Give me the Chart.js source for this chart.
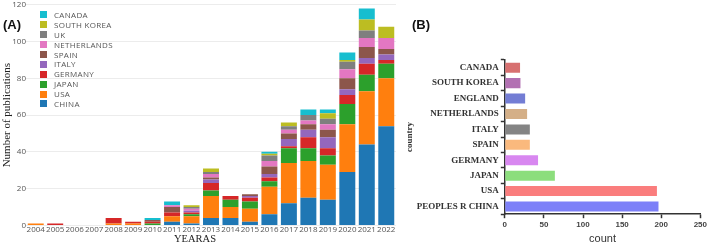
<!DOCTYPE html>
<html>
<head>
<meta charset="utf-8">
<script src="https://cdn.jsdelivr.net/npm/chart.js@4.4.1/dist/chart.umd.min.js"></script>
<style>
  html, body { margin: 0; padding: 0; background: #fff; }
  body { width: 709px; height: 248px; position: relative; overflow: hidden; }
  #cA { position: absolute; left: 0; top: 0; }
  #cB { position: absolute; left: 400px; top: 0; }
  .panel { position: absolute; font: bold 13px "Liberation Sans", Arial, sans-serif; color: #111; }
  #legA { position: absolute; left: 40px; top: 10px; font: 8px "Open Sans", "DejaVu Sans", sans-serif; color: #555; letter-spacing: 0.3px; }
  #legA .row { height: 9.9px; line-height: 9.9px; display: flex; align-items: center; white-space: nowrap; }
  #legA .sw { width: 7px; height: 7px; margin-right: 7px; display: inline-block; }
</style>
</head>
<body>
<canvas id="cA" width="400" height="248"></canvas>
<canvas id="cB" width="309" height="248"></canvas>
<div class="panel" style="left:3px; top:17px;">(A)</div>
<div class="panel" style="left:412px; top:17px;">(B)</div>
<div id="legA"></div>
<script>
// ---------- Panel A data ----------
const years = ["2004","2005","2006","2007","2008","2009","2010","2011","2012","2013","2014","2015","2016","2017","2018","2019","2020","2021","2022"];
const china       = [0,0,0,0,0,0,0,2,1,4,4,2,6,12,15,14,29,44,54];
const usa         = [1,0,0,0,1,1,0,3,4,12,6,7,15,22,20,19,26,29,26];
const japan       = [0,0,0,0,0,0,1,0,1,3,4,4,3,8,7,5,11,9,8];
const germany     = [0,1,0,0,3,1,1,2,1,4,2,2,2,1,6,4,5,6,2];
const italy       = [0,0,0,0,0,0,0,0,1,2,0,1,2,4,4,6,3,3,3];
const spain       = [0,0,0,0,0,0,1,3,0,1,0,1,4,3,3,4,6,6,3];
const netherlands = [0,0,0,0,0,0,0,1,1,2,0,0,3,2,2,3,5,5,6];
const uk          = [0,0,0,0,0,0,0,0,1,1,0,0,3,2,3,3,4,4,0];
const southKorea  = [0,0,0,0,0,0,0,0,1,2,0,0,1,2,0,3,1,6,6];
const canada      = [0,0,0,0,0,0,1,2,0,0,0,0,1,0,3,2,4,6,0];
const yTicksA = [0,20,40,60,80,100,120];

// ---------- Panel B data ----------
const countriesB = ["CANADA","SOUTH KOREA","ENGLAND","NETHERLANDS","ITALY","SPAIN","GERMANY","JAPAN","USA","PEOPLES R CHINA"];
const countsB    = [19.5,20,26,28.5,32,32,42.5,64,194.5,196.5];
const xTicksB = [0,50,100,150,200,250];

// ---------- Panel A ----------
const seriesA = [
  {label:"CHINA", data:china, color:"#1f77b4"},
  {label:"USA", data:usa, color:"#ff7f0e"},
  {label:"JAPAN", data:japan, color:"#2ca02c"},
  {label:"GERMANY", data:germany, color:"#d62728"},
  {label:"ITALY", data:italy, color:"#9467bd"},
  {label:"SPAIN", data:spain, color:"#8c564b"},
  {label:"NETHERLANDS", data:netherlands, color:"#e377c2"},
  {label:"UK", data:uk, color:"#7f7f7f"},
  {label:"SOUTH KOREA", data:southKorea, color:"#bcbd22"},
  {label:"CANADA", data:canada, color:"#17becf"}
];

const leg = document.getElementById('legA');
seriesA.slice().reverse().forEach(s => {
  const r = document.createElement('div'); r.className = 'row';
  const sw = document.createElement('span'); sw.className = 'sw'; sw.style.background = s.color;
  const t = document.createElement('span'); t.textContent = s.label;
  r.appendChild(sw); r.appendChild(t); leg.appendChild(r);
});

const xTitlePlugin = {
  id: 'xTitleA',
  afterDraw(chart) {
    const ctx = chart.ctx;
    ctx.save();
    ctx.font = '10.5px "Liberation Serif", "Times New Roman", serif';
    ctx.fillStyle = '#222';
    ctx.textAlign = 'center';
    ctx.textBaseline = 'middle';
    ctx.fillText('YEARAS', 195, 239);
    ctx.restore();
  }
};

new Chart(document.getElementById('cA'), {
  type: 'bar',
  data: {
    labels: years,
    datasets: seriesA.map(s => ({label: s.label, data: s.data, backgroundColor: s.color, borderWidth: 0,
      barPercentage: 0.82, categoryPercentage: 1.0}))
  },
  options: {
    responsive: false, animation: false, devicePixelRatio: 1,
    layout: { padding: { top: 1, right: 4, bottom: 13, left: 0 } },
    plugins: { legend: { display: false }, tooltip: { enabled: false } },
    scales: {
      x: {
        stacked: true,
        grid: { display: false, drawTicks: false },
        border: { display: false },
        ticks: { font: { size: 8, family: '"Open Sans", "DejaVu Sans", sans-serif' }, color: '#555', padding: 0, maxRotation: 0, autoSkip: false }
      },
      y: {
        stacked: true, min: 0, max: 120,
        afterBuildTicks: (ax) => { ax.ticks = yTicksA.map(v => ({value: v})); },
        afterFit: (ax) => { ax.width = 26; },
        grid: { color: '#ececec', drawTicks: false },
        border: { display: false },
        ticks: { font: { size: 8, family: '"Open Sans", "DejaVu Sans", sans-serif' }, color: '#555', padding: 0 },
        title: { display: true, text: 'Number of publications', font: { size: 11, family: '"Liberation Serif", "Times New Roman", serif' }, color: '#222', padding: { top: 1, bottom: 0 } }
      }
    }
  },
  plugins: [xTitlePlugin]
});

// ---------- Panel B ----------
const colorsB = ["rgba(215,112,112,1)","rgba(178,112,178,1)","rgba(115,125,212,1)","rgba(212,175,135,1)","rgba(132,132,132,1)",
                 "rgba(250,185,125,1)","rgba(216,135,240,1)","rgba(140,222,125,1)","rgba(250,125,125,1)","rgba(125,128,248,1)"];

new Chart(document.getElementById('cB'), {
  type: 'bar',
  data: {
    labels: countriesB,
    datasets: [{ data: countsB, backgroundColor: colorsB, borderWidth: 0, barPercentage: 0.65, categoryPercentage: 1.0 }]
  },
  options: {
    indexAxis: 'y',
    responsive: false, animation: false, devicePixelRatio: 1,
    layout: { padding: { top: 60, right: 8, bottom: 2, left: 4 } },
    plugins: { legend: { display: false }, tooltip: { enabled: false } },
    scales: {
      x: {
        min: 0, max: 250,
        afterBuildTicks: (ax) => { ax.ticks = xTicksB.map(v => ({value: v})); },
        grid: { drawOnChartArea: false, drawTicks: true, tickLength: 4, tickColor: '#333', tickWidth: 1.5 },
        border: { display: true, color: '#333', width: 1.5 },
        ticks: { font: { size: 8, weight: 'bold', family: '"Liberation Sans", Arial, sans-serif' }, color: '#444', padding: 2 },
        title: { display: true, text: 'count', font: { size: 11, family: '"Liberation Sans", Arial, sans-serif' }, color: '#333', padding: { top: 1, bottom: 0 } }
      },
      y: {
        grid: { drawOnChartArea: false, drawTicks: true, tickLength: 4, tickColor: '#333', tickWidth: 1.5 },
        border: { display: true, color: '#333', width: 1.5 },
        ticks: { font: { size: 9, weight: 'bold', family: '"Liberation Serif", "Times New Roman", serif' }, color: '#333', padding: 2, autoSkip: false },
        title: { display: true, text: 'country', font: { size: 9, weight: 'bold', family: '"Liberation Serif", "Times New Roman", serif' }, color: '#333', padding: { top: 0, bottom: 0 } }
      }
    }
  }
});
</script>
</body>
</html>
